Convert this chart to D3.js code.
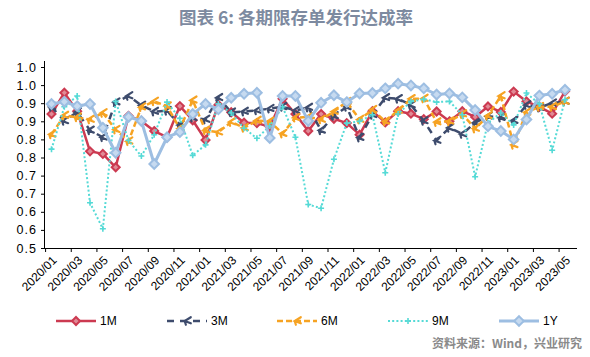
<!DOCTYPE html>
<html><head><meta charset="utf-8">
<script src="https://cdn.jsdelivr.net/npm/d3@7/dist/d3.min.js"></script>
<style>
html,body{margin:0;padding:0;background:#fff;}
svg{display:block;}
</style></head>
<body><svg id="chart" width="590" height="357"></svg>
<script>
const months = ["2020/01","2020/02","2020/03","2020/04","2020/05","2020/06","2020/07","2020/08","2020/09","2020/10","2020/11","2020/12",
"2021/01","2021/02","2021/03","2021/04","2021/05","2021/06","2021/07","2021/08","2021/09","2021/10","2021/11","2021/12",
"2022/01","2022/02","2022/03","2022/04","2022/05","2022/06","2022/07","2022/08","2022/09","2022/10","2022/11","2022/12",
"2023/01","2023/02","2023/03","2023/04","2023/05"];
const xTickLabels = ["2020/01","2020/03","2020/05","2020/07","2020/09","2020/11","2021/01","2021/03","2021/05","2021/07","2021/09","2021/11",
"2022/01","2022/03","2022/05","2022/07","2022/09","2022/11","2023/01","2023/03","2023/05"];
const yTickValues = [1.0,0.95,0.9,0.85,0.8,0.75,0.7,0.65,0.6,0.55,0.5];
const yTickLabels = ["1.0","1.0","0.9","0.9","0.8","0.8","0.7","0.7","0.6","0.6","0.5"];
const seriesNames = ["1M","3M","6M","9M","1Y"];
const m1 = [0.870,0.929,0.878,0.767,0.760,0.723,0.865,0.851,0.823,0.806,0.892,0.853,0.798,0.895,0.875,0.846,0.845,0.835,0.912,0.870,0.823,0.870,0.857,0.845,0.813,0.878,0.847,0.878,0.871,0.856,0.877,0.850,0.878,0.862,0.891,0.876,0.932,0.905,0.890,0.871,0.933];
const m3 = [0.890,0.851,0.876,0.825,0.806,0.903,0.920,0.894,0.877,0.879,0.840,0.860,0.855,0.915,0.875,0.877,0.880,0.885,0.890,0.880,0.888,0.825,0.865,0.890,0.805,0.868,0.915,0.912,0.895,0.851,0.797,0.832,0.815,0.846,0.864,0.860,0.852,0.895,0.888,0.900,0.905];
const m6 = [0.814,0.866,0.861,0.855,0.873,0.827,0.795,0.889,0.905,0.892,0.830,0.908,0.825,0.820,0.848,0.832,0.852,0.850,0.816,0.860,0.862,0.855,0.877,0.904,0.855,0.882,0.850,0.880,0.912,0.913,0.848,0.850,0.870,0.830,0.865,0.920,0.785,0.875,0.890,0.890,0.905];
const m9 = [0.773,0.890,0.920,0.625,0.553,0.905,0.797,0.754,0.813,0.903,0.858,0.756,0.785,0.898,0.873,0.831,0.803,0.837,0.890,0.806,0.620,0.610,0.745,0.845,0.850,0.868,0.708,0.870,0.905,0.911,0.903,0.905,0.868,0.697,0.846,0.873,0.840,0.928,0.898,0.770,0.910];
const y1 = [0.898,0.904,0.892,0.898,0.832,0.763,0.862,0.851,0.732,0.806,0.820,0.870,0.898,0.883,0.915,0.926,0.929,0.804,0.920,0.920,0.851,0.901,0.922,0.903,0.927,0.928,0.941,0.954,0.949,0.941,0.924,0.927,0.916,0.881,0.836,0.823,0.800,0.855,0.921,0.926,0.937];

const svg = d3.select("#chart");
const plotLeft = 45, plotRight = 577, plotTop = 67, plotBottom = 248;
const x = d3.scalePoint().domain(months).range([51.5, 565]);
const y = d3.scaleLinear().domain([0.5, 1.0]).range([plotBottom, plotTop]);

// title
svg.append("text").attr("x", 296).attr("y", 24).attr("text-anchor", "middle")
  .attr("font-family", "'Noto Sans CJK SC', sans-serif").attr("font-weight", "bold")
  .attr("font-size", 17.5).attr("fill", "#7D8AA0").text("图表 6: 各期限存单发行达成率");

// axes
const yAxis = d3.axisLeft(y).tickValues(yTickValues).tickSize(4).tickPadding(4)
  .tickFormat((d, i) => yTickLabels[i]);
const gy = svg.append("g").attr("transform", `translate(${plotLeft},0)`).call(yAxis);
gy.select(".domain").attr("d", `M-0.5,${plotTop - 6}V${plotBottom}`).attr("stroke", "#000");
gy.selectAll("text").attr("font-family", "'Liberation Sans', Arial, sans-serif").attr("font-size", 12.5)
  .attr("fill", "#000").style("letter-spacing", "1px");

const step = x.step();
const gx = svg.append("g").attr("transform", `translate(0,${plotBottom})`);
gx.append("line").attr("x1", plotLeft).attr("x2", plotRight).attr("y1", 0.5).attr("y2", 0.5).attr("stroke", "#000");
xTickLabels.forEach(lbl => {
  const cx = x(lbl);
  gx.append("line").attr("x1", cx - step / 2 + 0.5).attr("x2", cx - step / 2 + 0.5)
    .attr("y1", 0).attr("y2", 4).attr("stroke", "#000");
  gx.append("text").attr("transform", `translate(${cx + 3},${10}) rotate(-45)`)
    .attr("text-anchor", "end").attr("dy", "0.35em")
    .attr("font-family", "'Liberation Sans', Arial, sans-serif").attr("font-size", 12)
    .attr("fill", "#000").text(lbl);
});

// series
const series = [
  {name: "1M", data: m1, color: "#CC3A51", width: 2.5, dash: null, marker: "diamond", msize: 4, mfill: "#E08A96"},
  {name: "3M", data: m3, color: "#3E4C6D", width: 2.5, dash: "7,6", marker: "arrow", msize: 3.8},
  {name: "6M", data: m6, color: "#F6A323", width: 2.5, dash: "6,3", marker: "arrow", msize: 3.8},
  {name: "9M", data: m9, color: "#55DAD6", width: 2, dash: "2,2.2", marker: "plus", msize: 3},
  {name: "1Y", data: y1, color: "#9DBEE2", width: 3, dash: null, marker: "diamond", msize: 4.8, mfill: "#C6DAF0"}
];

function drawMarker(g, s, cx, cy) {
  if (s.marker === "diamond") {
    const r = s.msize;
    g.append("path").attr("d", `M${cx},${cy - r}L${cx + r},${cy}L${cx},${cy + r}L${cx - r},${cy}Z`)
      .attr("fill", s.mfill).attr("stroke", s.color).attr("stroke-width", 2);
  } else if (s.marker === "arrow") {
    const r = s.msize;
    g.append("path").attr("d", `M${cx + r},${cy - r}L${cx - r * 0.6},${cy}L${cx + r},${cy + r * 0.6}M${cx - r * 0.6},${cy}L${cx - r * 0.3},${cy + r}`)
      .attr("fill", "none").attr("stroke", s.color).attr("stroke-width", 2.2).attr("stroke-linecap", "round");
  } else if (s.marker === "plus") {
    const r = s.msize;
    g.append("path").attr("d", `M${cx - r},${cy}H${cx + r}M${cx},${cy - r}V${cy + r}`)
      .attr("fill", "none").attr("stroke", s.color).attr("stroke-width", 1.6);
  }
}

const line = d3.line().x((d, i) => x(months[i])).y(d => y(d));
series.forEach(s => {
  const g = svg.append("g");
  g.append("path").attr("d", line(s.data)).attr("fill", "none").attr("stroke", s.color)
    .attr("stroke-width", s.width).attr("stroke-dasharray", s.dash)
    .attr("stroke-linejoin", "round");
  s.data.forEach((v, i) => drawMarker(g, s, x(months[i]), y(v)));
});

// legend
const legendX = [56, 167, 277, 388, 499];
const ly = 321;
series.forEach((s, k) => {
  const g = svg.append("g");
  const x0 = legendX[k];
  g.append("line").attr("x1", x0).attr("x2", x0 + 40).attr("y1", ly).attr("y2", ly)
    .attr("stroke", s.color).attr("stroke-width", s.width).attr("stroke-dasharray", s.dash);
  drawMarker(g, s, x0 + 20, ly);
  g.append("text").attr("x", x0 + 44).attr("y", ly).attr("dy", "0.35em")
    .attr("font-family", "'Liberation Sans Narrow', 'Liberation Sans', Arial, sans-serif")
    .attr("font-size", 12).attr("fill", "#000").text(s.name);
});

// source
svg.append("text").attr("x", 582).attr("y", 348).attr("text-anchor", "end")
  .attr("font-family", "'Noto Sans CJK SC', sans-serif").attr("font-weight", "bold")
  .attr("font-size", 12).attr("fill", "#8A8A8A").text("资料来源：Wind，兴业研究");
</script>
</body></html>
